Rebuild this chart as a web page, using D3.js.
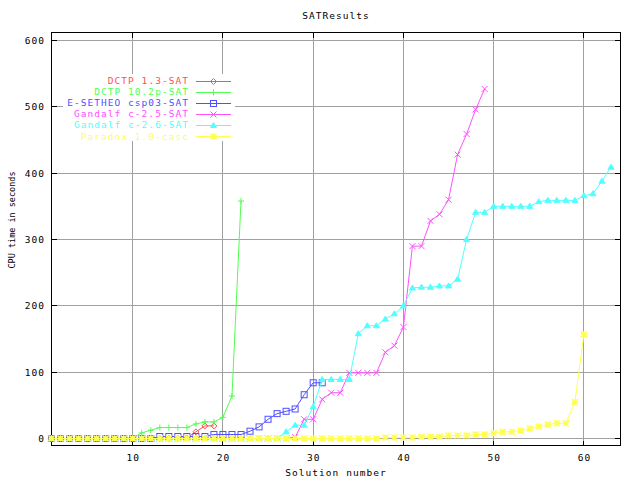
<!DOCTYPE html>
<html><head><meta charset="utf-8">
<script src="https://cdn.jsdelivr.net/npm/d3@7"></script>
<style>body{margin:0;background:#fff}svg{display:block}text{font-family:"DejaVu Sans Mono",monospace;}</style>
</head><body><svg id="c" width="640" height="480"></svg>
<script>
const title = "SATResults";
const xLabel = "Solution number";
const yLabel = "CPU time in seconds";
const xTicks = [10, 20, 30, 40, 50, 60];
const yTicks = [0, 100, 200, 300, 400, 500, 600];
const seriesNames = ["DCTP 1.3-SAT", "DCTP 10.2p-SAT", "E-SETHEO csp03-SAT", "Gandalf c-2.5-SAT", "Gandalf c-2.6-SAT", "Paradox 1.0-casc"];
const seriesColors = ["#ff5050", "#50ff50", "#5050ff", "#ff50ff", "#50ffff", "#ffff50"];
const seriesMarkers = ["diamond", "plus", "square", "cross", "triangle", "star"];

const dctp13 = [0,0,0,0,0,0,0,0,0,0,0,0,0,0,0,1,10,19,19];
const dctp102 = [0,0,0,0,0,0,0,0,0.5,1,8.5,12.5,16.5,16.5,16.5,16.5,22,25,25,32,64,358];
const esetheo = [0,0,0,0,0,0,0,0,0,0,0,0,3,3,3,3,3,3,6,6,6,6,11,17.5,29,37.5,41,44.5,66,84,84];
const gandalf25 = [0,0,0,0,0,0,0,0,0,0,0,0,0,0,0,0,0,0,0,0,0,0,0,0,0,0,0,2,29,29,59,69,69,99,99,99,99,130,140,168,290,290,328,338,360,428,459,496,527];
const gandalf26 = [0,0,0,0,0,0,0,0,0,0,0,0,0,0,0,0,0,0,0,0,0,0,0,0,0,0,10,20,20,48,89,89,89,89,158,170,170,180,188,200,227,228,228,230,230,240,300,341,341,350,350,350,350,350,357,359,359,359,359,366,369,388,409];
const paradox = [0,0,0,0,0,0,0,0,0,0,0,0,0,0,0,0,0,0,0,0,0,0,0,0,0,0,0,0,0,0,0,0,0,0,0,0,0,1.5,1.5,1.5,1.5,2.5,2.5,2.5,4.5,4.5,4.5,6,6,8,10,10,12,15,18,21,23,23,55,157];
const seriesValues = [dctp13, dctp102, esetheo, gandalf25, gandalf26, paradox];

const svg = d3.select("#c");
const box = {left: 51.5, right: 620, top: 32.5, bottom: 445.5};
const x = d3.scaleLinear().domain([1, 64]).range([box.left, box.right]);
const y = d3.scaleLinear().domain([0, 600]).range([438.5, 40.5]);
const px = v => Math.floor(x(v)) + 0.5;
const py = v => Math.floor(y(v)) + 0.5;

svg.append("rect").attr("width", 640).attr("height", 480).attr("fill", "#fff");

const grid = svg.append("g").attr("stroke", "#a0a0a0").attr("shape-rendering", "crispEdges");
xTicks.forEach(t => grid.append("line").attr("x1", px(t)).attr("x2", px(t)).attr("y1", box.top).attr("y2", box.bottom));
yTicks.forEach(t => grid.append("line").attr("y1", py(t)).attr("y2", py(t)).attr("x1", box.left).attr("x2", box.right));

// legend background
svg.append("rect").attr("x", 63).attr("y", 74).attr("width", 172).attr("height", 67).attr("fill", "#fff");

const ax = svg.append("g").attr("stroke", "#000").attr("shape-rendering", "crispEdges");
ax.append("rect").attr("x", box.left).attr("y", box.top).attr("width", box.right - box.left).attr("height", box.bottom - box.top).attr("fill", "none");
xTicks.forEach(t => {
  ax.append("line").attr("x1", px(t)).attr("x2", px(t)).attr("y1", box.bottom).attr("y2", box.bottom - 5);
  ax.append("line").attr("x1", px(t)).attr("x2", px(t)).attr("y1", box.top).attr("y2", box.top + 5);
});
yTicks.forEach(t => {
  ax.append("line").attr("y1", py(t)).attr("y2", py(t)).attr("x1", box.left).attr("x2", box.left + 5);
  ax.append("line").attr("y1", py(t)).attr("y2", py(t)).attr("x1", box.right).attr("x2", box.right - 5);
});

const fs = "9.5px";
const ls = "1.05px";
function txt(sel) { return sel.attr("font-size", fs).attr("letter-spacing", ls); }
txt(svg.append("g").selectAll("text").data(xTicks).join("text")
  .attr("x", d => x(d) + 0.5).attr("y", 461).attr("text-anchor", "middle")).text(d => d);
txt(svg.append("g").selectAll("text").data(yTicks).join("text")
  .attr("x", 45).attr("y", d => y(d) + 3.5).attr("text-anchor", "end")).text(d => d);
txt(svg.append("text").attr("x", 336).attr("y", 19).attr("text-anchor", "middle")).text(title);
txt(svg.append("text").attr("x", 336).attr("y", 476).attr("text-anchor", "middle")).text(xLabel);
svg.append("text").attr("transform", "translate(14.5,220) rotate(-90)").attr("text-anchor", "middle")
  .attr("font-size", "9.5px").attr("textLength", 97).attr("lengthAdjust", "spacingAndGlyphs").text(yLabel);

function marker(g, type, cx, cy, color) {
  const s = 3;
  if (type === "diamond") {
    g.append("path").attr("d", `M${cx-s},${cy}L${cx},${cy-s}L${cx+s},${cy}L${cx},${cy+s}Z`).attr("fill", "none").attr("stroke", color);
  } else if (type === "plus") {
    g.append("path").attr("d", `M${cx-s},${cy}H${cx+s}M${cx},${cy-s}V${cy+s}`).attr("stroke", color);
  } else if (type === "square") {
    g.append("rect").attr("x", cx-s).attr("y", cy-s).attr("width", 2*s).attr("height", 2*s).attr("fill", "none").attr("stroke", color);
  } else if (type === "cross") {
    g.append("path").attr("d", `M${cx-s},${cy-s}L${cx+s},${cy+s}M${cx-s},${cy+s}L${cx+s},${cy-s}`).attr("stroke", color);
  } else if (type === "triangle") {
    g.append("path").attr("d", `M${cx-s},${cy+2}L${cx},${cy-s}L${cx+s},${cy+2}Z`).attr("fill", color).attr("stroke", color);
  } else if (type === "star") {
    g.append("path").attr("d", `M${cx-s},${cy}H${cx+s}M${cx},${cy-s}V${cy+s}M${cx-s},${cy-s}L${cx+s},${cy+s}M${cx-s},${cy+s}L${cx+s},${cy-s}`).attr("stroke", color).attr("stroke-width", 1.5);
  }
}

const line = d3.line().x((d, i) => x(i + 1)).y(d => y(d));
seriesValues.forEach((vals, k) => {
  const c = seriesColors[k];
  const g = svg.append("g");
  g.append("path").attr("d", line(vals)).attr("fill", "none").attr("stroke", c).attr("stroke-width", 1);
  vals.forEach((v, i) => marker(g, seriesMarkers[k], x(i + 1), y(v), c));
  const ly = 80.5 + 11.1 * k;
  txt(svg.append("text").attr("x", 189).attr("y", ly + 3.5).attr("text-anchor", "end").attr("fill", c)).text(seriesNames[k]);
  svg.append("line").attr("x1", 196).attr("x2", 231).attr("y1", Math.round(ly) + 0.5).attr("y2", Math.round(ly) + 0.5).attr("stroke", c);
  marker(svg, seriesMarkers[k], 213.5, Math.round(ly) + 0.5, c);
});
</script></body></html>
